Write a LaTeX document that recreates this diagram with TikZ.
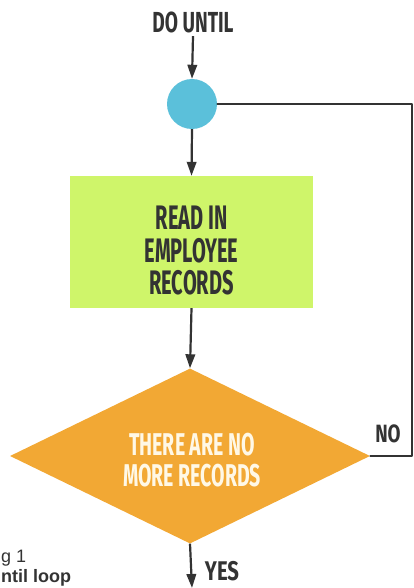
\documentclass[tikz,border=0pt]{standalone}
\usepackage{fontspec}
\setmainfont{Fira Sans}
\newfontfamily\headfont[FakeStretch=0.66]{Fira Sans}
\newfontfamily\boxfont[FakeStretch=0.59]{Fira Sans}
\newfontfamily\testfont[FakeStretch=0.62]{Fira Sans}
\newfontfamily\sidefont[FakeStretch=0.75]{Fira Sans}
\newfontfamily\capfont{Liberation Sans}
\usetikzlibrary{shapes.geometric,arrows.meta}

\definecolor{linegray}{HTML}{333333}
\definecolor{joinblue}{HTML}{5BC0DA}
\definecolor{readgreen}{HTML}{CFF56A}
\definecolor{testorange}{HTML}{F2A834}
\definecolor{testtext}{HTML}{FFF8E6}

\begin{document}
\begin{tikzpicture}[x=1pt, y=-1pt, line cap=round, line join=round,
  flow/.style={draw=linegray, line width=2.2pt, line cap=butt,
    -{Triangle[length=14pt,width=9.5pt]}},
  back/.style={draw=linegray, line width=1.5pt},
  label/.style={font=\headfont\bfseries\fontsize{29}{30}\selectfont, text=linegray}]
  \useasboundingbox (0,0) rectangle (414,588);

  % titolo e giunzione
  \node[label] (title) at (193,22) {DO UNTIL};
  \node[circle, fill=joinblue, minimum size=50pt, inner sep=0pt] (join) at (192,104) {};

  % blocco
  \node[fill=readgreen, minimum width=243pt, minimum height=132pt, inner sep=0pt] (read) at (191.5,242) {};
  \node[align=center, text=linegray, inner sep=0pt,
        font=\boxfont\bfseries\fontsize{34}{32.5}\selectfont] (readtext)
        at ([yshift=-9pt]read.center) {READ IN\\EMPLOYEE\\RECORDS};

  % test
  \node[diamond, fill=testorange, minimum width=360pt, minimum height=175pt,
        aspect=2.06, inner sep=0pt] (test) at (190,456) {};
  \node[align=center, text=testtext, inner sep=0pt,
        font=\testfont\bfseries\fontsize{31.5}{31}\selectfont] (testlabel)
        at ([xshift=2pt,yshift=-4pt]test.center) {THERE ARE NO\\MORE RECORDS};

  % frecce
  \draw[flow] (title.south) -- (join.north);
  \draw[flow] (join.south) -- (read.north);
  \draw[flow] (read.south) -- (test.north);
  \coordinate (out) at (192,588);
  \draw[flow] (test.south) -- (out);

  % ritorno
  \draw[back] (test.east) -- (412,456) |- (join.east);
  \node[label, font=\sidefont\bfseries\fontsize{25}{26}\selectfont] (no) at (388,434) {NO};
  \node[label, font=\sidefont\bfseries\fontsize{27}{28}\selectfont] (yes) at (222,571) {YES};

  % didascalia
  \node[anchor=base west, inner sep=0pt, text=linegray,
        font=\capfont\fontsize{18}{20}\selectfont] (fig) at (1,562) {g 1};
  \node[anchor=base west, inner sep=0pt, text=linegray,
        font=\capfont\bfseries\fontsize{18}{20}\selectfont] (cap) at (1,582) {ntil loop};
\end{tikzpicture}
\end{document}
